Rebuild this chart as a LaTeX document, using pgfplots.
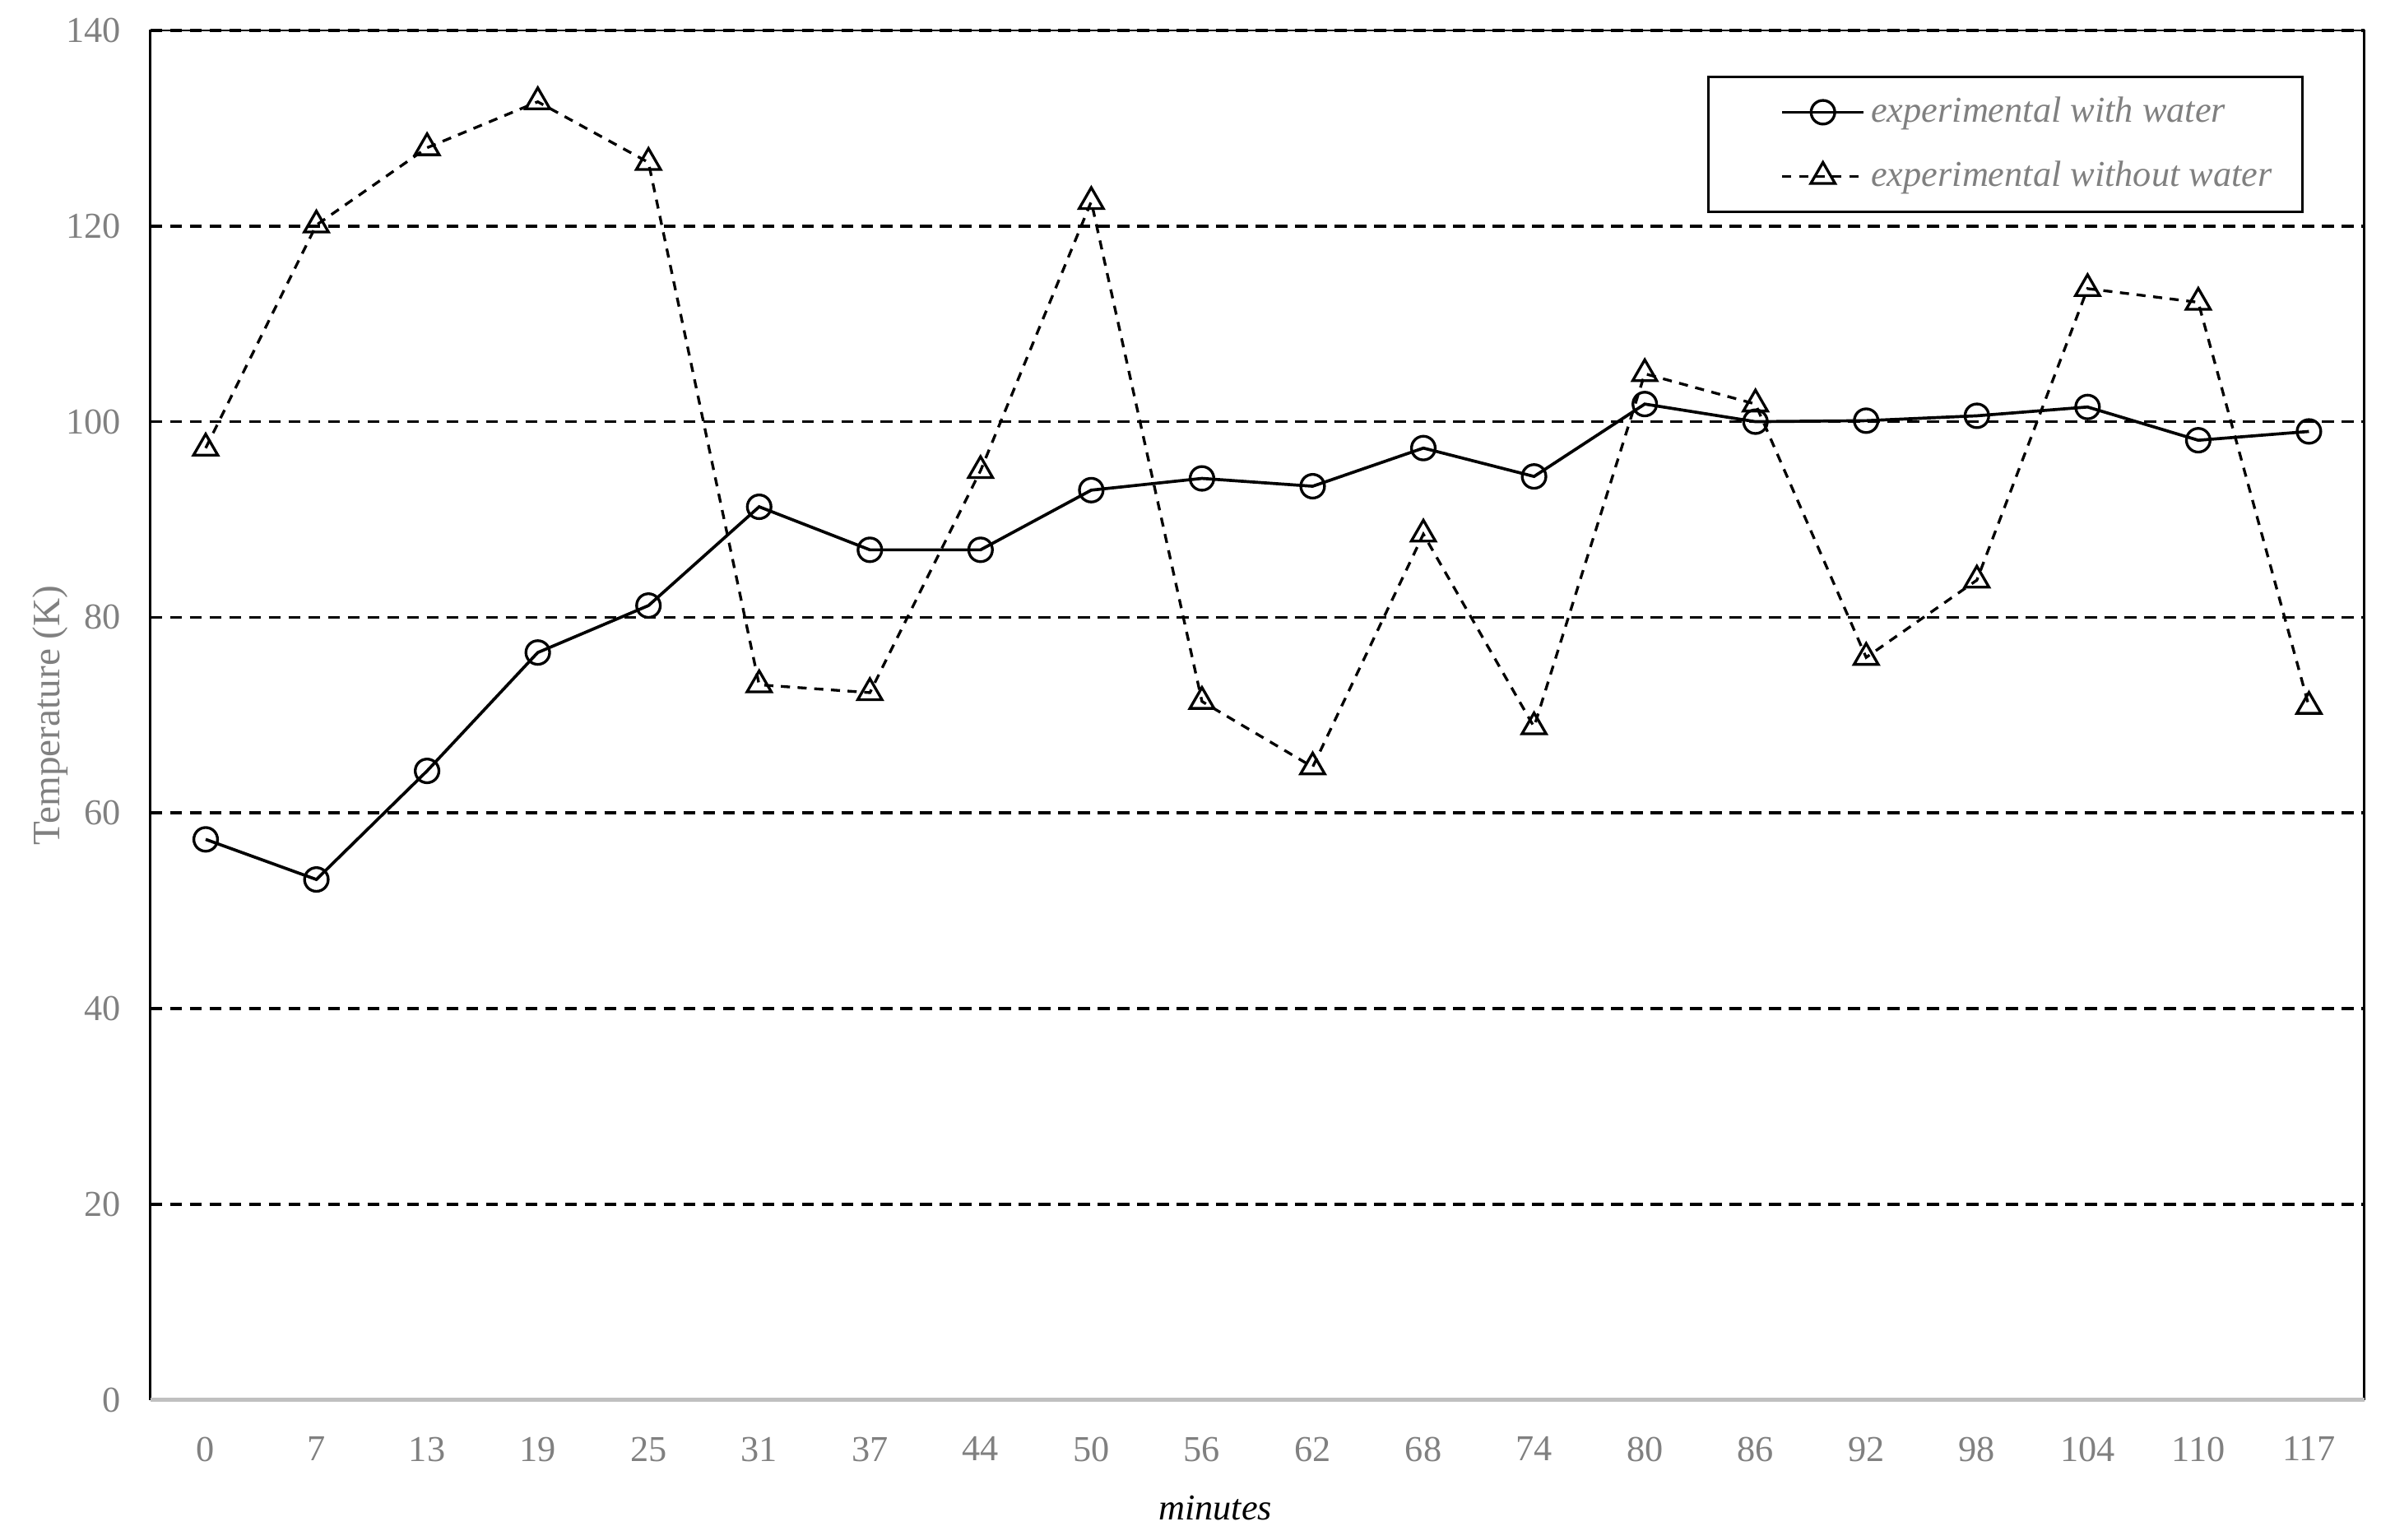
\documentclass[border=0pt]{standalone}
\usepackage{pgfplots}
\pgfplotsset{compat=1.18}
\usepackage{fontspec}
\setmainfont{Liberation Serif}
\definecolor{tickgray}{HTML}{808080}
\definecolor{axisgray}{HTML}{C0C0C0}
\begin{document}
\fontsize{12}{14}\selectfont
\begin{tikzpicture}
\begin{axis}[
  scale only axis, width=729pt, height=451pt,
  xmin=-0.5, xmax=19.5, ymin=0, ymax=140,
  xtick={0,...,19},
  xticklabels={0,7,13,19,25,31,37,44,50,56,62,68,74,80,86,92,98,104,110,117},
  ytick={0,20,...,140},
  major tick length=0pt,
  ymajorgrids,
  grid style={black, line width=1pt, dash pattern=on 4pt off 2.5pt},
  axis line style={draw=none},
  clip=false,
  /pgf/number format/assume math mode=true,
  tick label style={font=\fontsize{12}{14}\selectfont, text=tickgray},
  yticklabel style={inner sep=0pt, xshift=-9.5pt, anchor=east},
  xticklabel style={inner sep=0pt, yshift=-12pt, anchor=north},
  ylabel={Temperature (K)},
  ylabel style={at={(axis description cs:-0.0453,0.5)}, anchor=center, text=tickgray, font=\fontsize{12.8}{14}\selectfont},
  xlabel={minutes},
  xlabel style={at={(axis description cs:0.481,0)}, anchor=center, yshift=-35.5pt, font=\fontsize{12}{14}\selectfont\itshape},
  legend style={at={(axis description cs:1,1)}, anchor=north east, xshift=-20pt, yshift=-15pt,
    draw=black, line width=0.8pt, font=\fontsize{12}{14}\selectfont\itshape, text=tickgray,
    inner xsep=8pt, inner ysep=4.5pt, row sep=7pt, legend cell align=left},
  legend image code/.code={\path (-0.56cm,0cm); \draw[mark repeat=2, mark phase=2] plot coordinates {(0cm,0cm) (0.47cm,0cm) (0.94cm,0cm)};},
]
\addplot[black, line width=1pt, mark=o, mark size=3.9pt, mark options={solid, line width=0.9pt}] coordinates {
(0,57.3) (1,53.2) (2,64.3) (3,76.4) (4,81.2) (5,91.3) (6,86.9) (7,86.9) (8,93.0) (9,94.2)
(10,93.4) (11,97.3) (12,94.4) (13,101.8) (14,100.0) (15,100.1) (16,100.6) (17,101.5) (18,98.1) (19,99.0)};
\addlegendentry{experimental with water}
\addplot[black, line width=0.9pt, dash pattern=on 3pt off 2.5pt, mark=triangle, mark size=4.6pt, mark options={solid, line width=0.9pt}] coordinates {
(0,97.3) (1,120.1) (2,128.0) (3,132.7) (4,126.5) (5,73.1) (6,72.3) (7,95.0) (8,122.5) (9,71.4)
(10,64.7) (11,88.5) (12,68.8) (13,104.9) (14,101.8) (15,75.9) (16,83.8) (17,113.6) (18,112.2) (19,70.9)};
\addlegendentry{experimental without water}
\draw[black, line width=0.7pt] (rel axis cs:0,0) -- (rel axis cs:0,1) -- (rel axis cs:1,1) -- (rel axis cs:1,0);
\draw[axisgray, line width=1.3pt] (rel axis cs:0,0) -- (rel axis cs:1,0);
\end{axis}
\pgfresetboundingbox
\useasboundingbox (-49.5pt,-46pt) rectangle (734.5pt,461pt);
\end{tikzpicture}
\end{document}
